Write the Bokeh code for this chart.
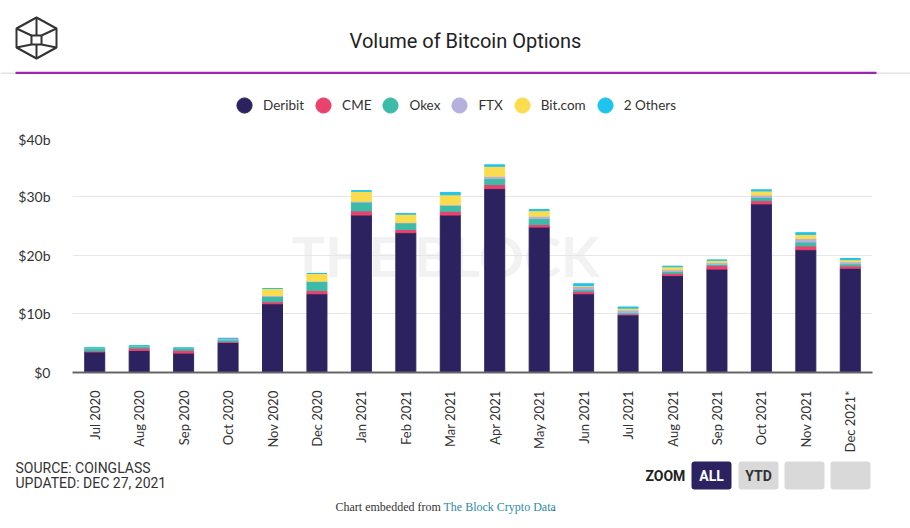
import math
from bokeh.plotting import figure
from bokeh.layouts import column
from bokeh.models import (ColumnDataSource, FactorRange, Range1d, FixedTicker, Legend,
                          LegendItem, Label, BoxAnnotation, PolyAnnotation)
from bokeh.embed import file_html
from bokeh.resources import INLINE

# ---------------- data (billions of USD) ----------------
months = ["Jul 2020", "Aug 2020", "Sep 2020", "Oct 2020", "Nov 2020", "Dec 2020",
          "Jan 2021", "Feb 2021", "Mar 2021", "Apr 2021", "May 2021", "Jun 2021",
          "Jul 2021", "Aug 2021", "Sep 2021", "Oct 2021", "Nov 2021", "Dec 2021*"]
deribit = [3.5, 3.75, 3.3, 5.1, 11.7, 13.4, 26.8, 23.8, 26.8, 31.3, 24.75, 13.4,
           9.8, 16.5, 17.6, 28.7, 20.9, 17.75]
cme = [0.15, 0.4, 0.5, 0.15, 0.35, 0.55, 0.7, 0.55, 0.65, 0.7, 0.45, 0.45,
       0.15, 0.4, 0.6, 0.55, 0.65, 0.4]
okex = [0.55, 0.4, 0.35, 0.3, 0.9, 1.55, 1.5, 1.1, 1.0, 1.0, 1.0, 0.3,
        0.2, 0.3, 0.2, 0.55, 0.65, 0.35]
ftx = [0.0, 0.0, 0.0, 0.25, 0.15, 0.05, 0.15, 0.1, 0.1, 0.4, 0.4, 0.5,
       0.5, 0.3, 0.3, 0.4, 0.6, 0.35]
bitcom = [0.0, 0.0, 0.0, 0.0, 1.2, 1.3, 1.7, 1.4, 1.7, 1.7, 0.95, 0.15,
          0.3, 0.5, 0.4, 0.7, 0.7, 0.35]
others = [0.0, 0.0, 0.0, 0.0, 0.0, 0.0, 0.1, 0.1, 0.4, 0.25, 0.2, 0.3,
          0.2, 0.1, 0.05, 0.2, 0.3, 0.2]

series_keys = ["deribit", "cme", "okex", "ftx", "bitcom", "others"]
series_names = ["Deribit", "CME", "Okex", "FTX", "Bit.com", "2 Others"]
series_colors = ["#2c2260", "#e8436d", "#3dbba9", "#b5b0dc", "#fbdc4f", "#1ec4ec"]

y_ticks = [0, 10, 20, 30, 40]
y_tick_labels = ["$0", "$10b", "$20b", "$30b", "$40b"]

W = 910
HEAD_H = 130          # page y 0..130
MAIN_H = 325          # page y 130..455
FOOT_H = 528 - HEAD_H - MAIN_H

SANS = "Roboto"


def blank_fig(height, y0, y1):
    """A figure whose frame fills the canvas; data coords == page pixels."""
    f = figure(width=W, height=height, x_range=Range1d(0, W), y_range=Range1d(y1, y0),
               output_backend="svg", toolbar_location=None,
               x_axis_location=None, y_axis_location=None,
               min_border=0, min_border_left=0, min_border_right=0,
               min_border_top=0, min_border_bottom=0)
    f.outline_line_color = None
    f.xgrid.visible = False
    f.ygrid.visible = False
    f.background_fill_color = "white"
    f.border_fill_color = "white"
    return f


def box(f, l, r, t, b, color, radius=0):
    f.add_layout(BoxAnnotation(left=l, right=r, top=t, bottom=b, fill_color=color,
                               fill_alpha=1, line_color=None, border_radius=radius))


def label(f, x, y, text, size, font=SANS, color="#333333", align="left",
          style="normal"):
    f.add_layout(Label(x=x, y=y, text=text, text_align=align, text_baseline="middle",
                       text_font=font, text_font_size=size, text_color=color,
                       text_font_style=style))


# ---------------- header ----------------
head = blank_fig(HEAD_H, 0, HEAD_H)
label(head, 465, 40, "Volume of Bitcoin Options", "20px", color="#222222", align="center")
box(head, 0, 910, 72, 73.5, "#e4e4e4")
box(head, 15, 876, 71.3, 73.5, "#9c27b0")

logo_shapes = [
    [(36, 17), (56, 28), (56, 47), (36, 58), (16, 47), (16, 28)],
    [(31, 35), (41, 35), (41, 44), (31, 44)],
    [(16, 28), (31, 35)], [(56, 28), (41, 35)],
    [(16, 47), (31, 44)], [(56, 47), (41, 44)],
    [(36, 17), (36, 35)], [(36, 44), (36, 58)],
]
for shp in logo_shapes:
    head.add_layout(PolyAnnotation(xs=[a for a, b in shp], ys=[b for a, b in shp],
                                   fill_alpha=0, line_color="#333333", line_width=2,
                                   line_alpha=1))

nan = float("nan")
items = []
for name, col in zip(series_names, series_colors):
    r = head.scatter(x=[nan], y=[nan], marker="circle", size=15,
                     fill_color=col, line_color=col)
    items.append(LegendItem(label=name, renderers=[r]))
legend = Legend(items=items, location=(225, HEAD_H - 124), orientation="horizontal",
                glyph_width=38, glyph_height=38, label_standoff=-3, spacing=-6,
                padding=0, margin=0, border_line_alpha=0, background_fill_alpha=0,
                label_text_font="Lato", label_text_font_size="13.5px",
                label_text_color="#333333")
head.add_layout(legend)

# ---------------- main chart ----------------
FL, FT, FW, FH = 72, 7, 800, 238      # frame: page x 72..872, page y 137..375

source = ColumnDataSource(dict(month=months, deribit=deribit, cme=cme, okex=okex,
                               ftx=ftx, bitcom=bitcom, others=others))

p = figure(width=W, height=MAIN_H, x_range=FactorRange(factors=months, range_padding=0),
           y_range=Range1d(0, 40), output_backend="svg", toolbar_location=None,
           min_border_left=FL, min_border_right=W - FL - FW,
           min_border_top=FT, min_border_bottom=MAIN_H - FT - FH)
p.outline_line_color = None
p.background_fill_color = "white"
p.border_fill_color = "white"

# watermark (inside the frame, screen units relative to frame)
p.add_layout(Label(x=445 - FL, y=375 - 258, x_units="screen", y_units="screen",
                   text="THE BLOCK", text_align="center", text_baseline="middle",
                   text_font="Lato", text_font_size="56px", text_font_style="bold",
                   text_color="#f2f2f2", level="image"))

p.vbar_stack(series_keys, x="month", width=0.45, color=series_colors, source=source)

p.xaxis.major_label_orientation = math.pi / 2
p.xaxis.major_label_text_font = "Lato"
p.xaxis.major_label_text_font_size = "13px"
p.xaxis.major_label_text_color = "#333333"
p.xaxis.major_tick_line_color = None
p.xaxis.minor_tick_line_color = None
p.xaxis.axis_line_color = "#666666"
p.xaxis.axis_line_width = 2
p.xaxis.major_label_standoff = 12

p.yaxis.ticker = FixedTicker(ticks=y_ticks)
p.yaxis.major_label_overrides = dict(zip(y_ticks, y_tick_labels))
p.yaxis.major_label_text_font = "Lato"
p.yaxis.major_label_text_font_size = "14px"
p.yaxis.major_label_text_color = "#333333"
p.yaxis.axis_line_color = None
p.yaxis.major_tick_line_color = None
p.yaxis.minor_tick_line_color = None
p.yaxis.major_label_standoff = 16

p.xgrid.grid_line_color = None
p.ygrid.grid_line_color = "#e6e6e6"

# ---------------- footer ----------------
FOOT_Y0 = HEAD_H + MAIN_H
foot = blank_fig(FOOT_H, FOOT_Y0, 528)
label(foot, 15, 467, "SOURCE: COINGLASS", "14px")
label(foot, 15, 482, "UPDATED: DEC 27, 2021", "14px")
label(foot, 645, 475, "ZOOM", "14px", color="#222222", style="bold")
buttons = [(691, 731, "#2c2260", "ALL", "white"), (738, 778, "#d9d9d9", "YTD", "#333333"),
           (784, 824, "#d9d9d9", "", "#333333"), (830, 870, "#d9d9d9", "", "#333333")]
for l, r_, fc, txt, tc in buttons:
    box(foot, l, r_, 461, 489, fc, radius=3)
    if txt:
        label(foot, (l + r_) / 2, 475, txt, "14px", color=tc, align="center", style="bold")
label(foot, 335, 506, "Chart embedded from", "12px", font="Liberation Serif")
label(foot, 443, 506, "The Block Crypto Data", "12px", font="Liberation Serif",
      color="#2d8aa5")
label(foot, 552, 506, ".", "12px", font="Liberation Serif")

# nesting keeps the header/footer frames independent of the chart's frame
layout = column(column(head), column(p), column(foot), spacing=0)
open("out.html", "w").write(file_html(layout, INLINE))
